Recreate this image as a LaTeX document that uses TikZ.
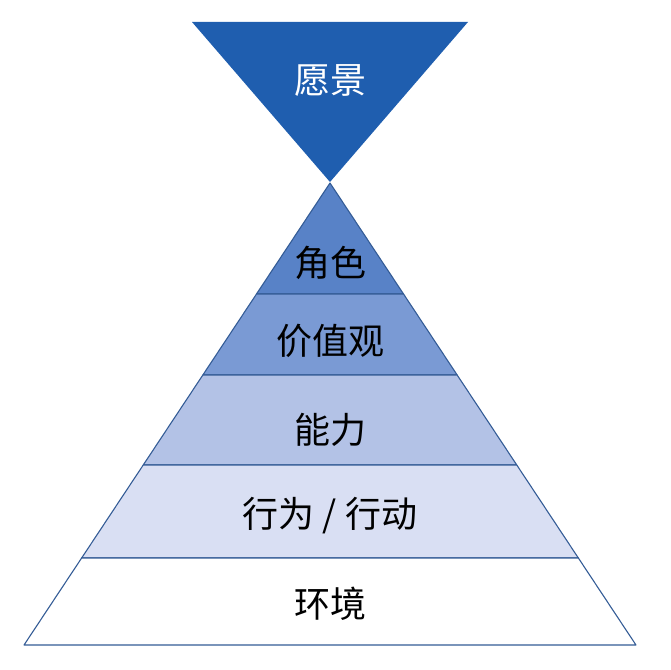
\documentclass[tikz,border=0pt]{standalone}
\usepackage{fontspec}
\setmainfont{Noto Sans CJK SC}
\usetikzlibrary{positioning}

\definecolor{visionblue}{RGB}{31,94,175}
\definecolor{roleblue}{RGB}{88,130,199}
\definecolor{valueblue}{RGB}{122,154,212}
\definecolor{abilityblue}{RGB}{179,194,230}
\definecolor{actionblue}{RGB}{217,223,243}
\definecolor{edgeblue}{RGB}{52,92,150}

\begin{document}
\begin{tikzpicture}[x=1pt,y=-1pt]
        % Define styles
        \tikzstyle{layer} = [draw=edgeblue, line width=1.1pt, line join=round]
        \tikzstyle{layertext} = [font=\fontsize{36}{42}\selectfont, text=black, inner sep=0pt]

        \useasboundingbox (0,0) rectangle (671,669);

        % Vision (inverted triangle)
        \fill [visionblue] (192,22) -- (468,22) -- (330,182) -- cycle;
        \node [layertext, text=white] (yuanjing) at (330,81) {愿景};

        % Pyramid layers: top / bottom / colour
        \foreach \top/\bot/\col in {183/294/roleblue, 294/375/valueblue, 375/465/abilityblue, 465/558/actionblue, 558/645/white}
            \filldraw [layer, fill=\col] ({330-0.6623*(\top-183)},\top) -- ({330+0.6623*(\top-183)},\top)
                -- ({330+0.6623*(\bot-183)},\bot) -- ({330-0.6623*(\bot-183)},\bot) -- cycle;

        % Labels
        \node [layertext] (juese) at (330,263) {角色};
        \node [layertext] (jiazhiguan) at (330,341) {价值观};
        \node [layertext] (nengli) at (330,430) {能力};
        \node [layertext] (xingwei) at (330,516) {行为 / 行动};
        \node [layertext] (huanjing) at (330,604) {环境};

    \end{tikzpicture}
\end{document}
